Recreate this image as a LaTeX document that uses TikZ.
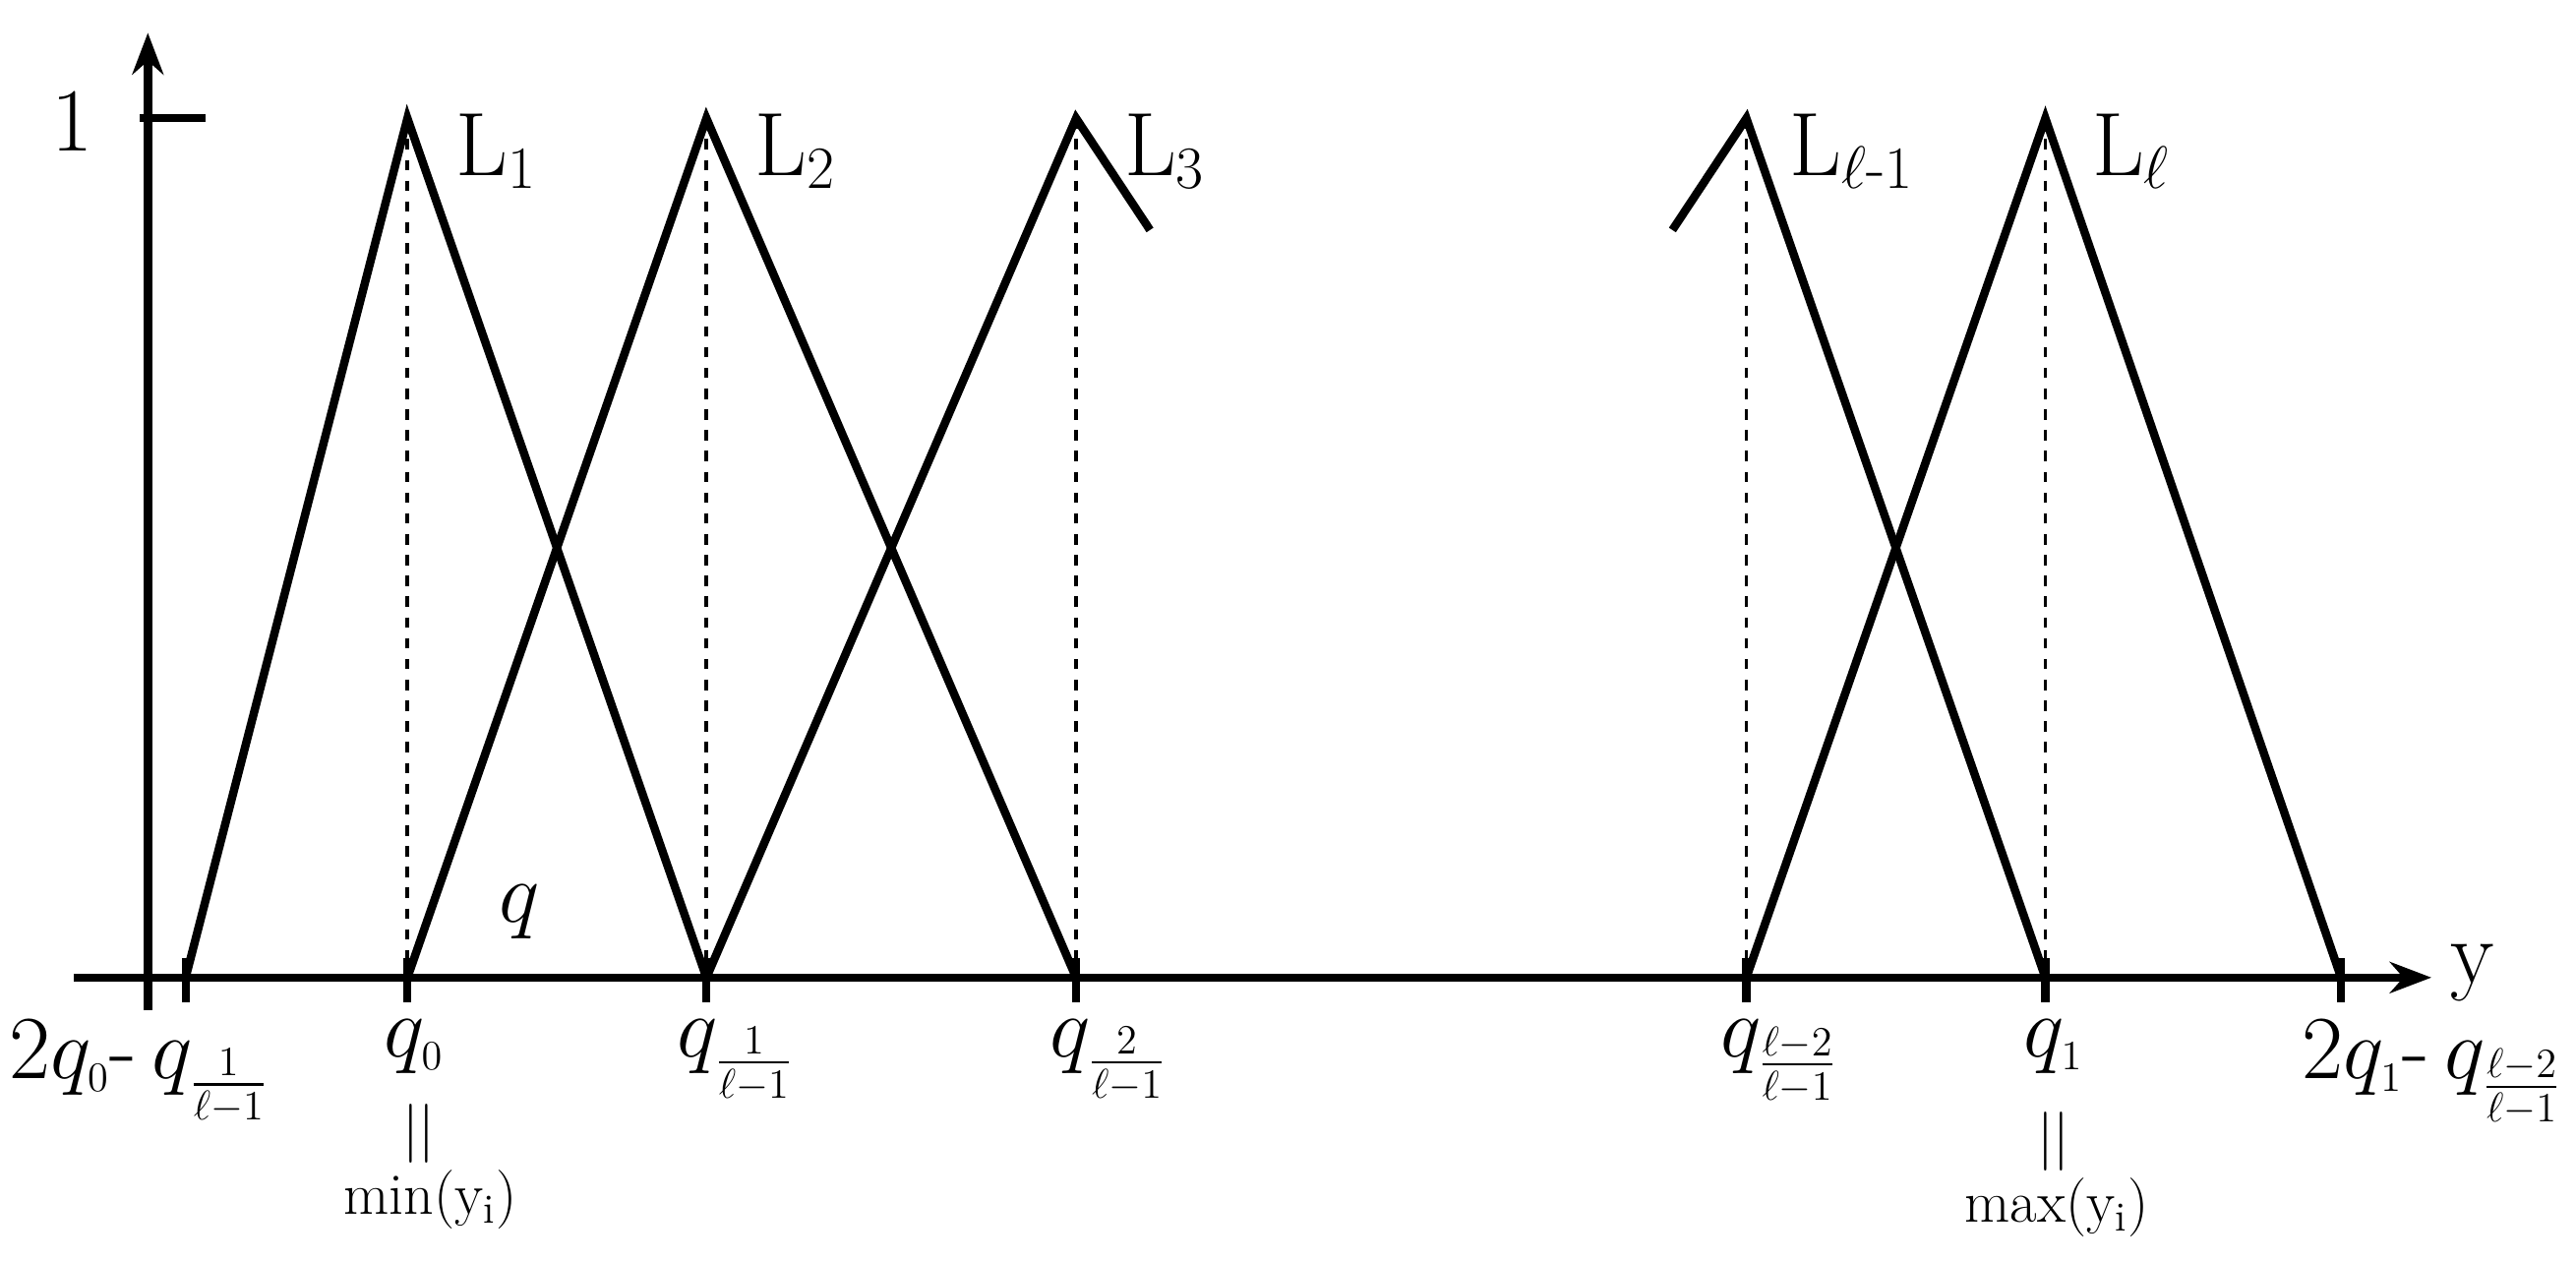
\documentclass[tikz,border=0pt]{standalone}
\usepackage{amsmath}
\usetikzlibrary{arrows.meta}
\begin{document}
\begin{tikzpicture}[x=0.016667cm,y=-0.016667cm,
 ln/.style={line width=2.4pt},
 dsh/.style={dashed,line width=1pt},
 big/.style={font=\fontsize{26}{30}\selectfont},
 small/.style={font=\fontsize{17}{20}\selectfont}]
\useasboundingbox (0,0) rectangle (1568,768);
\coordinate (o) at (90,595);
\coordinate (top) at (90,20);
\coordinate (xl) at (45,595);
\coordinate (xr) at (1480,595);
\draw[ln,-{Stealth[length=12pt]}] (90,615) -- (top);
\draw[ln,-{Stealth[length=12pt]}] (xl) -- (xr);
\node[big,anchor=west] (ylab) at (1484,592) {y};
\draw[ln] (85,72) -- (125,72);
\node[big] (one) at (44,74) {1};
\foreach \x in {113,248,430,655,1063,1245,1425}{\draw[ln] (\x,583) -- (\x,610);}
\foreach \x in {248,430,655,1063,1245}{\draw[dsh] (\x,72) -- (\x,595);}
% triangles
\draw[ln] (113,595) -- (248,72) -- (430,595);
\draw[ln] (248,595) -- (430,72) -- (655,595);
\draw[ln] (430,595) -- (655,72) -- (700,140);
\draw[ln] (1018,140) -- (1063,72) -- (1245,595);
\draw[ln] (1063,595) -- (1245,72) -- (1425,595);
\node[big,anchor=west] (L1) at (270,92) {L$_1$};
\node[big,anchor=west] (L2) at (452,92) {L$_2$};
\node[big,anchor=west] (L3) at (677,92) {L$_3$};
\node[big,anchor=west] (L4) at (1082,92) {L$_{\ell\text{-}1}$};
\node[big,anchor=west] (L5) at (1266,92) {L$_{\ell}$};
\node[big] (qq) at (316,555) {$q$};
% bottom labels
\node[big,anchor=north west,inner sep=0] (b1) at (5,620) {2$q_{\scriptscriptstyle 0}$-\,$q_{\frac{1}{\ell-1}}$};
\node[big,anchor=north,inner sep=0] (b2) at (252,620) {$q_{\scriptscriptstyle 0}$};
\node[small,inner sep=0] (b2a) at (255,690) {||};
\node[small,inner sep=0] (b2b) at (262,730) {min(y$_\text{i}$)};
\node[big,anchor=north,inner sep=0] (b3) at (448,620) {$q_{\frac{1}{\ell-1}}$};
\node[big,anchor=north,inner sep=0] (b4) at (675,620) {$q_{\frac{2}{\ell-1}}$};
\node[big,anchor=north,inner sep=0] (b5) at (1083,620) {$q_{\frac{\ell-2}{\ell-1}}$};
\node[big,anchor=north,inner sep=0] (b6) at (1250,620) {$q_{\scriptscriptstyle 1}$};
\node[small,inner sep=0] (b6a) at (1250,695) {||};
\node[small,inner sep=0] (b6b) at (1252,735) {max(y$_\text{i}$)};
\node[big,anchor=north east,inner sep=0] (b7) at (1560,620) {2$q_{\scriptscriptstyle 1}$-\,$q_{\frac{\ell-2}{\ell-1}}$};
\end{tikzpicture}
\end{document}
